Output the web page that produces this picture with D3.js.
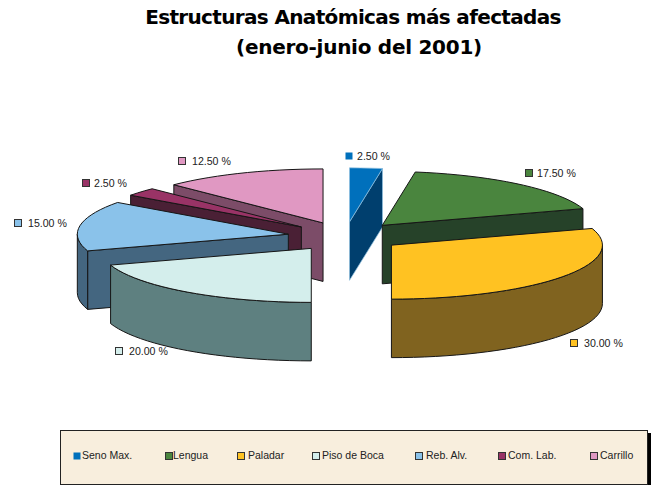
<!DOCTYPE html>
<html><head><meta charset="utf-8">
<script src="https://cdnjs.cloudflare.com/ajax/libs/d3/7.8.5/d3.min.js"></script>
<style>html,body{margin:0;padding:0;background:#fff}svg{display:block}</style>
</head><body><svg id="c" width="653" height="485"></svg>
<script>
const categories = ["Seno Max.","Lengua","Paladar","Piso de Boca","Reb. Alv.","Com. Lab.","Carrillo"];
const values = [2.5,17.5,30,20,15,2.5,12.5];
const topColors = ["#0070BC","#4A853E","#FFC222","#D4EEEC","#8AC2EA","#993366","#E098C2"];
const wallColors = ["#003F6E","#264229","#80631F","#5E8080","#446680","#4A2035","#7C4C68"];
const drawOrder = [6,5,4,3,0,1,2];

const W = {cx:345, cy:236.5, a:211, b:54, depth:58.5, explode:0.272};
const labelAnchors = [[345,152,12],[525,169,12],[570,339,14],[115,347,14],[14,219,14],[82,179,12],[178,157,14]];
const legendAnchors = [[73,82],[165,173],[237,248],[312,322],[415,426],[498,508],[590,600]];

const svg = d3.select("#c");
const FONT = "'Liberation Sans', Arial, sans-serif";

// Title
const title = svg.append("g").attr("font-family","'DejaVu Sans', Verdana, sans-serif")
  .attr("font-weight","bold").attr("font-size",20).attr("text-anchor","middle").attr("fill","#000");
title.append("text").attr("x",353).attr("y",24).attr("letter-spacing",-0.65).text("Estructuras Anatómicas más afectadas");
title.append("text").attr("x",359).attr("y",54).attr("letter-spacing",-0.27).text("(enero-junio del 2001)");

// Pie geometry through d3.pie, projected on an ellipse
const arcs = d3.pie().sort(null).value(d=>d)(values);
const sx = d3.scaleLinear().domain([-1,1]).range([-W.a,W.a]);
const sy = d3.scaleLinear().domain([-1,1]).range([W.b,-W.b]);
function pt(o,t,r=1,dz=0){return [o[0]+sx(r*Math.sin(t)), o[1]+sy(r*Math.cos(t))+dz];}
function arcPts(o,t0,t1,dz=0){
  const n=Math.max(2,Math.ceil((t1-t0)/(Math.PI/60)));
  return d3.range(n+1).map(i=>pt(o,t0+(t1-t0)*i/n,1,dz));
}
const line = d3.line();
const pieG = svg.append("g").attr("stroke","#161616").attr("stroke-width",1).attr("stroke-linejoin","round");
drawOrder.forEach(i=>{
  const d=arcs[i], t0=d.startAngle, t1=d.endAngle, mid=(t0+t1)/2;
  const o=[W.cx+sx(W.explode*Math.sin(mid)), W.cy+sy(W.explode*Math.cos(mid))];
  const wall=wallColors[i];
  const g=pieG.append("g");
  if(i===0) g.attr("stroke","#8FC0E0").attr("stroke-width",0.7);
  const quad=(t)=>{
    const p=pt(o,t);
    return [o,p,[p[0],p[1]+W.depth],[o[0],o[1]+W.depth]];
  };
  // straight cut wall, only when it faces the viewer
  if(i<=1){ g.append("path").attr("d",line(quad(t1))+"Z").attr("fill",wall); }
  if(i>=4){ g.append("path").attr("d",line(quad(t0))+"Z").attr("fill",wall); }
  // outer curved wall on the front half
  const a0=Math.max(t0,Math.PI/2), a1=Math.min(t1,Math.PI*1.5);
  if(a1>a0){
    const top=arcPts(o,a0,a1), bot=arcPts(o,a0,a1,W.depth).reverse();
    g.append("path").attr("d",line(top.concat(bot))+"Z").attr("fill",wall);
  }
  // top face
  g.append("path").attr("d",line([o].concat(arcPts(o,t0,t1)))+"Z").attr("fill",topColors[i]);
});

// Data labels
const lab = svg.append("g").attr("font-family",FONT).attr("font-size",10.6).attr("fill","#222");
categories.forEach((c,i)=>{
  const [x,y,dx]=labelAnchors[i];
  lab.append("rect").attr("x",x+.5).attr("y",y+.5).attr("width",7).attr("height",7)
    .attr("fill",topColors[i]).attr("stroke",i===0?"none":"#333");
  lab.append("text").attr("x",x+dx).attr("y",y+8).text(d3.format(".2f")(values[i])+" %");
});

// Legend
svg.append("rect").attr("x",61).attr("y",431).attr("width",588).attr("height",54).attr("fill","#000").attr("transform","translate(2,2)");
svg.append("rect").attr("x",60.5).attr("y",430.5).attr("width",587).attr("height",54)
  .attr("fill","#F8EEDD").attr("stroke","#222");
const leg = svg.append("g").attr("font-family",FONT).attr("font-size",10.5).attr("fill","#222");
categories.forEach((c,i)=>{
  const [sw,tx]=legendAnchors[i];
  leg.append("rect").attr("x",sw+.5).attr("y",452.5).attr("width",7).attr("height",7)
    .attr("fill",topColors[i]).attr("stroke",i===0?"none":"#333");
  leg.append("text").attr("x",tx).attr("y",459).text(c);
});
</script></body></html>
